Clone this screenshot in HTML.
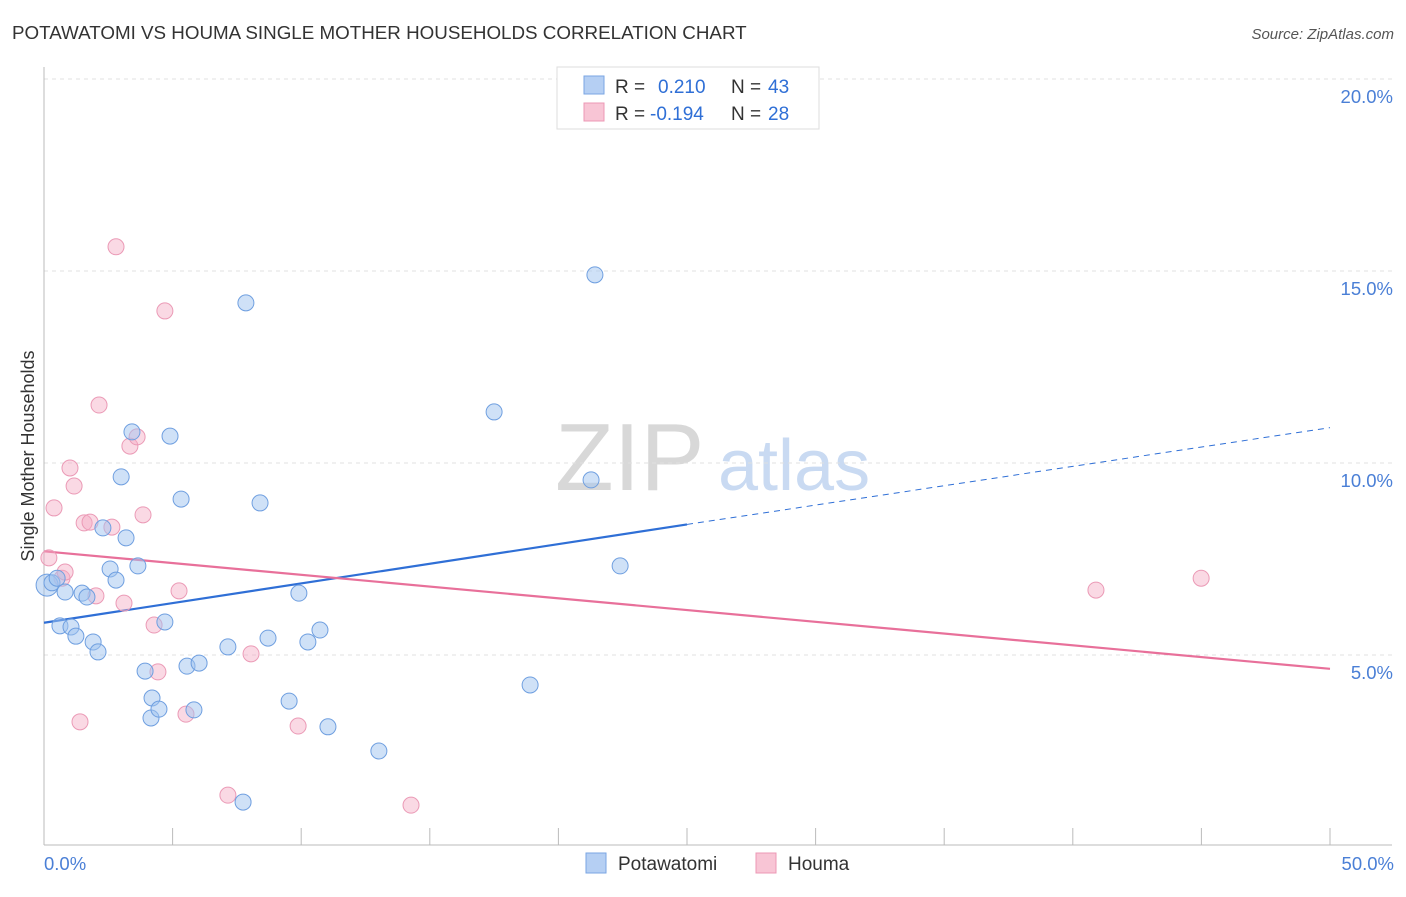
<!DOCTYPE html>
<html><head><meta charset="utf-8"><style>
body{margin:0;background:#fff;font-family:"Liberation Sans",sans-serif;}
svg text{font-family:"Liberation Sans",sans-serif;}
</style></head><body>
<svg id="c" width="1406" height="892" xmlns="http://www.w3.org/2000/svg">
<text x="12" y="39" font-size="18.8" fill="#333">POTAWATOMI VS HOUMA SINGLE MOTHER HOUSEHOLDS CORRELATION CHART</text>
<text x="1394" y="39" font-size="15" fill="#555" font-style="italic" text-anchor="end">Source: ZipAtlas.com</text>
<text x="34" y="456" font-size="18" fill="#333" transform="rotate(-90 34 456)" text-anchor="middle">Single Mother Households</text>
<g>
<text x="555" y="490" font-size="96" font-family="Liberation Serif,serif" fill="#d8d8d8">ZIP</text>
<text x="718" y="490" font-size="72" fill="#c9daf2">atlas</text>
</g>
<g id="grid"></g><g id="ticks"></g><g id="trend"></g><g id="pts"></g>
<g>
<rect x="557" y="67" width="262" height="62" fill="#fff" stroke="#ddd"/>
<rect x="584" y="76" width="20" height="18" fill="#b5cff3" stroke="#7aa6e3"/>
<rect x="584" y="103" width="20" height="18" fill="#f8c5d5" stroke="#ec98b5"/>
<text x="615" y="93" font-size="19" fill="#333">R =</text><text x="658" y="93" font-size="19" fill="#2f6fd6">0.210</text>
<text x="731" y="93" font-size="19" fill="#333">N =</text><text x="768" y="93" font-size="19" fill="#2f6fd6">43</text>
<text x="615" y="120" font-size="19" fill="#333">R =</text><text x="650" y="120" font-size="19" fill="#2f6fd6">-0.194</text>
<text x="731" y="120" font-size="19" fill="#333">N =</text><text x="768" y="120" font-size="19" fill="#2f6fd6">28</text>
</g>
<g>
<rect x="586" y="853" width="20" height="20" fill="#b5cff3" stroke="#7aa6e3"/>
<text x="618" y="870" font-size="19" fill="#333">Potawatomi</text>
<rect x="756" y="853" width="20" height="20" fill="#f8c5d5" stroke="#ec98b5"/>
<text x="788" y="870" font-size="19" fill="#333">Houma</text>
</g>
</svg>
<script>
const yTicks=[5,10,15,20];
const yTickLabels=["5.0%","10.0%","15.0%","20.0%"];
const xTicks=[0,5,10,15,20,25,30,35,40,45,50];
const blueX=[0.12,0.31,0.51,0.62,0.82,1.05,1.24,1.48,1.67,1.91,2.10,2.29,2.57,2.8,3.0,3.19,3.42,3.65,3.93,4.2,4.16,4.47,4.7,4.9,5.33,5.56,5.83,6.03,7.15,7.74,7.85,8.4,8.71,9.53,9.91,10.26,10.73,11.04,13.02,17.5,18.9,21.27,21.42,22.4];
const blueY=[6.82,6.88,7.0,5.76,6.64,5.73,5.49,6.61,6.51,5.34,5.08,8.31,7.24,6.95,9.64,8.05,10.81,7.32,4.58,3.88,3.36,3.59,5.86,10.7,9.06,4.71,3.57,4.79,5.21,1.17,14.17,8.96,5.44,3.8,6.61,5.34,5.65,3.13,2.5,11.33,4.22,9.56,14.9,7.32];
const pinkX=[0.39,0.19,0.7,0.82,1.01,1.17,1.4,1.56,1.79,2.02,2.14,2.64,2.8,3.11,3.34,3.62,3.85,4.28,4.43,4.7,5.25,5.52,7.15,8.05,9.88,14.27,40.9,44.99];
const pinkY=[8.83,7.53,7.0,7.16,9.87,9.4,3.26,8.44,8.46,6.54,11.51,8.33,15.63,6.35,10.44,10.68,8.65,5.78,4.56,13.96,6.67,3.46,1.35,5.03,3.15,1.09,6.69,7.0];
const blueTrend=[5.84,8.4,10.92]; // at x=0,25,50
const pinkTrend=[7.7,4.64]; // at x=0,50
const NS="http://www.w3.org/2000/svg";
const X=v=>44+v*25.72, Y=v=>847-v*38.4;
function mk(t,a,p){const e=document.createElementNS(NS,t);for(const k in a)e.setAttribute(k,a[k]);p.appendChild(e);return e;}
const g=document.getElementById('grid'),tk=document.getElementById('ticks'),tr=document.getElementById('trend'),pt=document.getElementById('pts');
yTicks.forEach((v,i)=>{
 const l=mk('line',{x1:44,x2:1392,y1:Y(v),y2:Y(v),stroke:'#e0e0e0','stroke-dasharray':'4 4'},g);
 
 
 const t=mk('text',{x:1393,y:Y(v)+24,'font-size':18.5,fill:'#4a7fd6','text-anchor':'end'},g);
 t.textContent=yTickLabels[i];
 
 
});
const ax=mk('line',{x1:44,x2:44,y1:67,y2:845,stroke:'#bbb'},tk);


const bx=mk('line',{x1:44,x2:1392,y1:845,y2:845,stroke:'#bbb'},tk);


xTicks.forEach(v=>{const l=mk('line',{x1:X(v),x2:X(v),y1:828,y2:845,stroke:'#bbb'},tk);
 
 });
[[0,'0.0%','start',44],[50,'50.0%','end',1394]].forEach(a=>{const t=mk('text',{x:a[3],y:870,'font-size':18.5,fill:'#4a7fd6','text-anchor':a[2]},tk);t.textContent=a[1];
 
 });
const b1=mk('line',{x1:X(0),y1:Y(blueTrend[0]),x2:X(25),y2:Y(blueTrend[1]),stroke:'#2f6fd6','stroke-width':2.2},tr);


const b2=mk('line',{x1:X(25),y1:Y(blueTrend[1]),x2:X(50),y2:Y(blueTrend[2]),stroke:'#2f6fd6','stroke-width':1,'stroke-dasharray':'6 5'},tr);


const p1=mk('line',{x1:X(0),y1:Y(pinkTrend[0]),x2:X(50),y2:Y(pinkTrend[1]),stroke:'#e8709a','stroke-width':2.2},tr);


pinkX.forEach((x,i)=>{const c=mk('circle',{cx:X(x),cy:Y(pinkY[i]),r:8,fill:'rgba(245,170,195,0.45)',stroke:'#eb9ab6','stroke-width':1},pt);
 
 });
blueX.forEach((x,i)=>{const c=mk('circle',{cx:X(x),cy:Y(blueY[i]),r:i==0?11:8,fill:'rgba(160,195,240,0.5)',stroke:'#6f9fe0','stroke-width':1},pt);
 
 });
</script>
</body></html>
